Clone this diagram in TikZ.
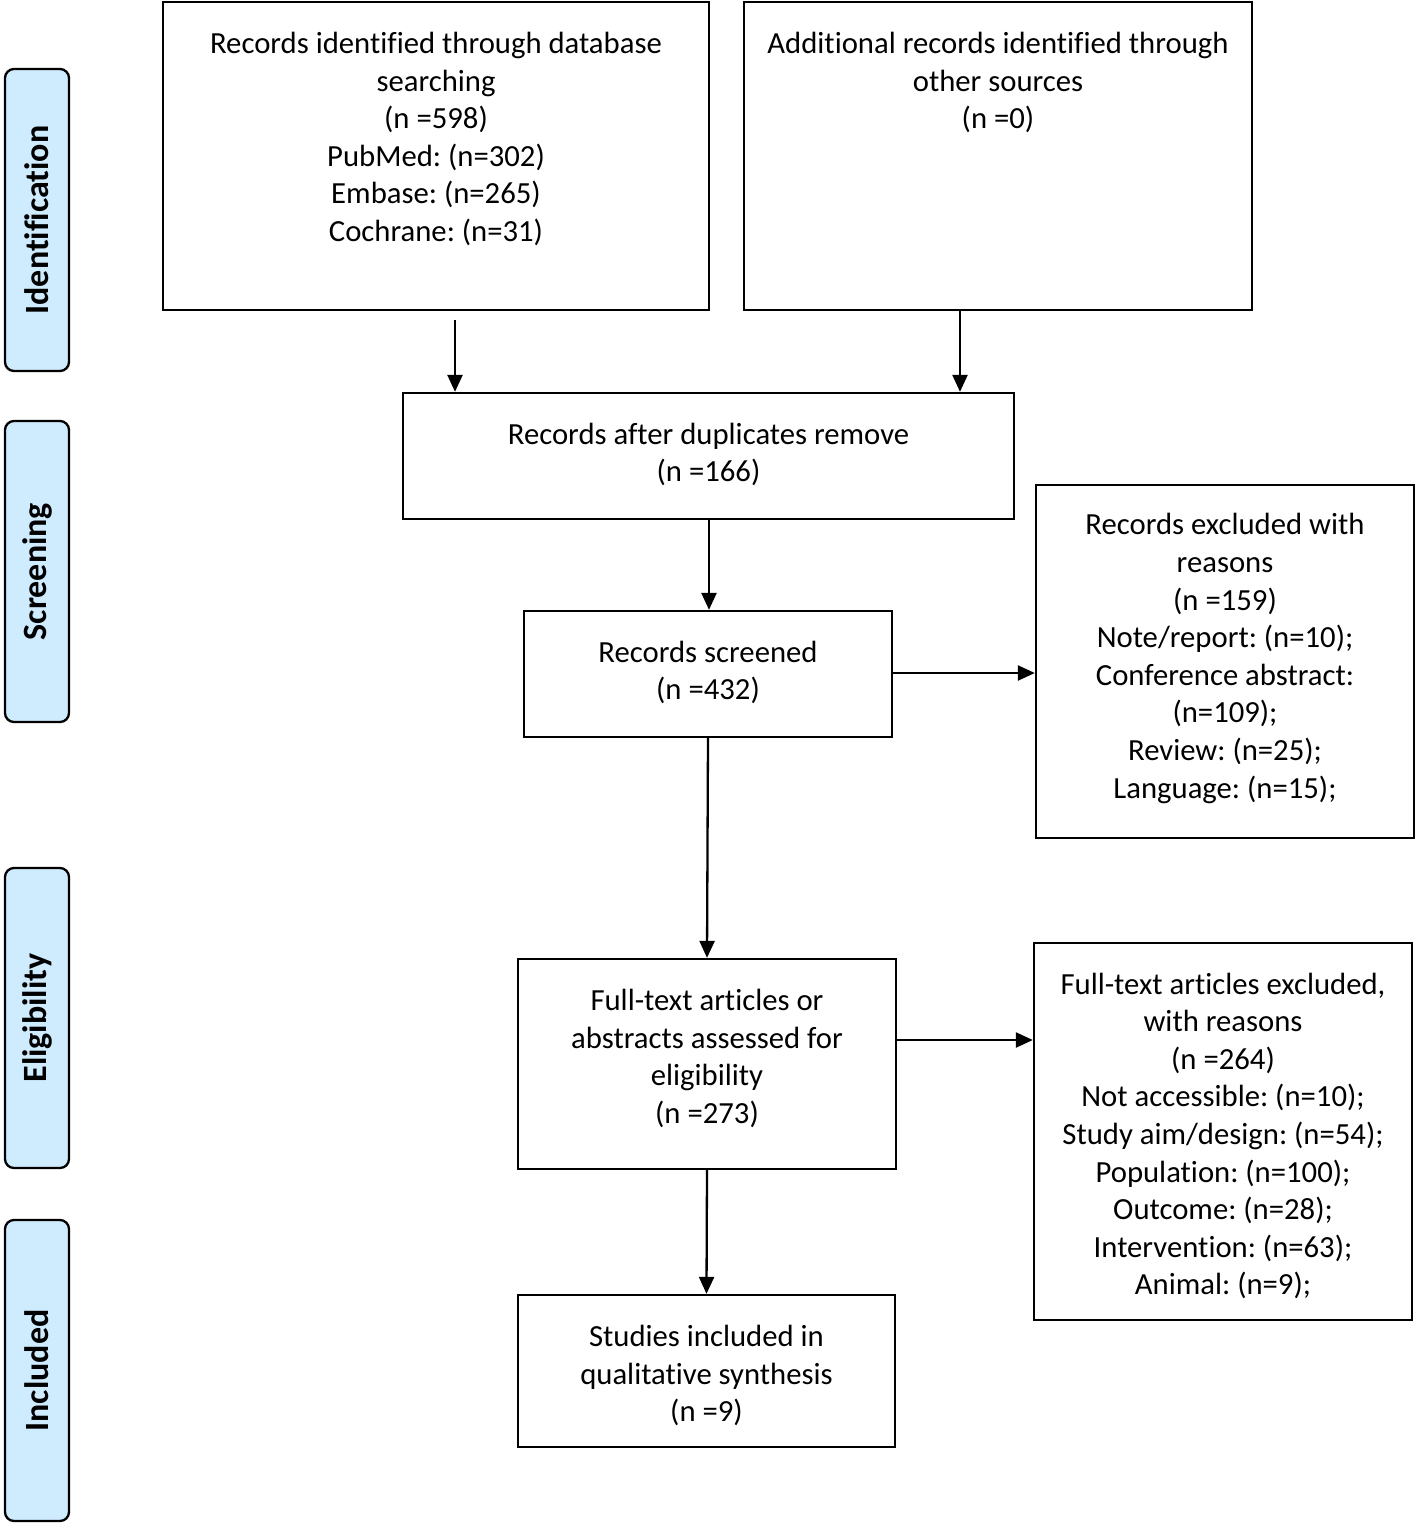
\documentclass[tikz,border=0pt]{standalone}
\usepackage{fontspec}
\setmainfont[RawFeature={-liga;-clig;-calt;-dlig}]{Carlito}
\usetikzlibrary{arrows.meta}
\definecolor{sidefill}{RGB}{207,236,255}
\frenchspacing
\begin{document}
\begin{tikzpicture}[x=1pt,y=-1pt,
  box/.style={draw, line width=2.3pt, rectangle, inner sep=0pt},
  txt/.style={align=center, inner sep=0pt, font=\fontsize{30.7}{37.6}\selectfont},
  side/.style={draw, line width=2.3pt, rounded corners=9pt, fill=sidefill, inner sep=0pt},
  sidetxt/.style={rotate=90, inner sep=0pt, font=\fontsize{34}{38}\selectfont\bfseries},
  arr/.style={line width=2.3pt, -{Triangle[length=17pt,width=15pt]}}]
\useasboundingbox (0,0) rectangle (1416,1535);
% side bars
\node[side, minimum width=64, minimum height=302] (s1) at (37,220) {};
\node[side, minimum width=64, minimum height=301] (s2) at (37,571.5) {};
\node[side, minimum width=64, minimum height=300] (s3) at (37,1018) {};
\node[side, minimum width=64, minimum height=301] (s4) at (37,1370.5) {};
\node[sidetxt] (l1) at (s1.center) {Identification};
\node[sidetxt] (l2) at (s2.center) {Screening};
\node[sidetxt] (l3) at (s3.center) {Eligibility};
\node[sidetxt] (l4) at (s4.center) {Included};
% boxes
\node[box, minimum width=546, minimum height=308] (A) at (436,156) {};
\node[txt] (At) at (436,139) {Records identified through database\\searching\\(n =598)\\PubMed: (n=302)\\Embase: (n=265)\\Cochrane: (n=31)};
\node[box, minimum width=508, minimum height=308] (B) at (998,156) {};
\node[txt] (Bt) at (998,82.5) {Additional records identified through\\other sources\\(n =0)};
\node[box, minimum width=611, minimum height=126] (C) at (708.5,456) {};
\node[txt] (Ct) at (708.5,454.5) {Records after duplicates remove\\(n =166)};
\node[box, minimum width=368, minimum height=126] (D) at (708,674) {};
\node[txt] (Dt) at (708,672.5) {Records screened\\(n =432)};
\node[box, minimum width=378, minimum height=353] (E) at (1225,661.5) {};
\node[txt] (Et) at (1225,658.5) {Records excluded with\\reasons\\(n =159)\\Note/report: (n=10);\\Conference abstract:\\(n=109);\\Review: (n=25);\\Language: (n=15);};
\node[box, minimum width=378, minimum height=210] (F) at (707,1064) {};
\node[txt] (Ft) at (707,1058.5) {Full-text articles or\\abstracts assessed for\\eligibility\\(n =273)};
\node[box, minimum width=378, minimum height=377] (G) at (1223,1131.5) {};
\node[txt] (Gt) at (1223,1136) {Full-text articles excluded,\\with reasons\\(n =264)\\Not accessible: (n=10);\\Study aim/design: (n=54);\\Population: (n=100);\\Outcome: (n=28);\\Intervention: (n=63);\\Animal: (n=9);};
\node[box, minimum width=377, minimum height=152] (H) at (706.5,1371) {};
\node[txt] (Ht) at (706.5,1375.5) {Studies included in\\qualitative synthesis\\(n =9)};
% arrows
\coordinate (a1) at (455,320);
\draw[arr] (a1) -- (a1 |- C.north);
\draw[arr] (B.south -| 960,0) -- (960,0 |- C.north);
\draw[arr] (C.south -| 709,0) -- (709,0 |- D.north);
\draw[arr] (D.east |- 0,673) -- (E.west |- 0,673);
\draw[arr] (D.south) -- (F.north);
\draw[arr] (F.east |- 0,1040) -- (G.west |- 0,1040);
\draw[arr] (F.south) -- (H.north);
\end{tikzpicture}
\end{document}
